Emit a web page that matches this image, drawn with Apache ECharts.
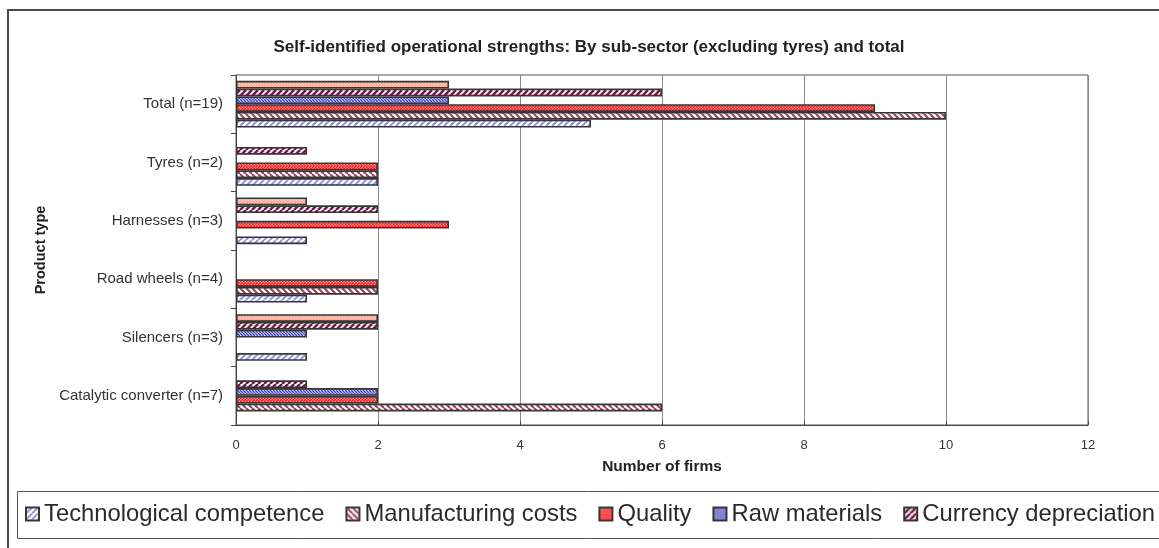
<!DOCTYPE html>
<html>
<head>
<meta charset="utf-8">
<style>
  html, body { margin: 0; padding: 0; background: #fff; }
  #chart { width: 1159px; height: 548px; }
</style>
<script src="https://cdn.jsdelivr.net/npm/echarts@6/dist/echarts.min.js"></script>
</head>
<body>
<div id="chart"></div>
<script>
// Categories, listed from the bottom of the axis to the top
const categories = [
  'Catalytic converter (n=7)',
  'Silencers (n=3)',
  'Road wheels (n=4)',
  'Harnesses (n=3)',
  'Tyres (n=2)',
  'Total (n=19)'
];

// Number of firms per strength, same category order
const technologicalCompetence = [0, 1, 1, 1, 2, 5];
const manufacturingCosts      = [6, 0, 2, 0, 2, 10];
const quality                 = [2, 0, 2, 3, 2, 9];
const rawMaterials            = [2, 1, 0, 0, 0, 3];
const currencyDepreciation    = [1, 2, 0, 2, 1, 6];
const otherStrengths          = [0, 2, 0, 1, 0, 3];

const seriesNames = [
  'Technological competence',
  'Manufacturing costs',
  'Quality',
  'Raw materials',
  'Currency depreciation',
  'Other'
];
const xTicks = [0, 2, 4, 6, 8, 10, 12];

// Diagonal hatch tile: dir '/' or '\\'
function hatch(fg, bg, period, lw, dir) {
  const c = document.createElement('canvas');
  c.width = c.height = period;
  const g = c.getContext('2d');
  g.fillStyle = bg;
  g.fillRect(0, 0, period, period);
  g.strokeStyle = fg;
  g.lineWidth = lw;
  g.beginPath();
  for (let k = -1; k <= 1; k++) {
    const o = k * period;
    if (dir === '/') { g.moveTo(o, period); g.lineTo(o + period, 0); }
    else { g.moveTo(o, 0); g.lineTo(o + period, period); }
  }
  g.stroke();
  return { image: c, repeat: 'repeat' };
}

const fills = [
  hatch('#9696d8', '#ffffff', 6, 2.0, '/'),
  hatch('#a3405c', '#ffffff', 6, 2.2, '\\'),
  hatch('#ff2626', '#ffd8d8', 3, 1.9, '/'),
  hatch('#4646bc', '#ececff', 3, 1.5, '\\'),
  hatch('#741a4a', '#ffffff', 6, 2.6, '/'),
  hatch('#ffa28a', '#fff2ee', 3, 1.8, '/')
];

const values = [
  technologicalCompetence,
  manufacturingCosts,
  quality,
  rawMaterials,
  currencyDepreciation,
  otherStrengths
];

const FONT = '"Liberation Sans", Arial, sans-serif';

// Horizontal bars stack their series from the top of each band,
// so the series are given in reverse to keep the first one lowest.
const order = [5, 4, 3, 2, 1, 0];

const chart = echarts.init(document.getElementById('chart'), null, { renderer: 'canvas' });

chart.setOption({
  backgroundColor: '#ffffff',
  animation: false,
  textStyle: { fontFamily: FONT },
  title: {
    text: 'Self-identified operational strengths: By sub-sector (excluding tyres) and total',
    left: 584,
    textAlign: 'center',
    top: 34,
    textStyle: { fontFamily: FONT, fontSize: 17, fontWeight: 'bold', color: '#222' }
  },
  graphic: [
    {
      type: 'rect',
      shape: { x: 8, y: 10, width: 1200, height: 600 },
      style: { fill: 'none', stroke: '#4a4a4a', lineWidth: 2 },
      silent: true
    },
    {
      type: 'rect',
      shape: { x: 17.5, y: 491.5, width: 1200, height: 47 },
      style: { fill: 'none', stroke: '#555', lineWidth: 1 },
      silent: true
    }
  ],
  legend: {
    data: seriesNames.slice(0, 5),
    left: 25,
    top: 502,
    padding: 0,
    itemGap: 21,
    itemWidth: 13,
    itemHeight: 13,
    icon: 'rect',
    textStyle: { fontFamily: FONT, fontSize: 23.8, color: '#2a2a2a' }
  },
  grid: {
    left: 236,
    right: 71,
    top: 75,
    bottom: 123,
    show: true,
    borderColor: '#555',
    borderWidth: 1
  },
  xAxis: {
    type: 'value',
    min: xTicks[0],
    max: xTicks[xTicks.length - 1],
    interval: 2,
    name: 'Number of firms',
    nameLocation: 'middle',
    nameGap: 34,
    nameTextStyle: { fontFamily: FONT, fontSize: 15.5, fontWeight: 'bold', color: '#222' },
    axisLine: { show: true, lineStyle: { color: '#444', width: 1 } },
    axisTick: { show: true, inside: true, length: 4, lineStyle: { color: '#444' } },
    axisLabel: { fontFamily: FONT, fontSize: 13, color: '#333', margin: 14 },
    splitLine: { show: true, lineStyle: { color: '#8a8a8a', width: 1 } }
  },
  yAxis: {
    type: 'category',
    data: categories,
    name: 'Product type',
    nameLocation: 'middle',
    nameGap: 186,
    nameRotate: 90,
    nameTextStyle: { fontFamily: FONT, fontSize: 14.5, fontWeight: 'bold', color: '#222' },
    axisLine: { show: true, lineStyle: { color: '#444', width: 1 } },
    axisTick: { show: true, length: 5, lineStyle: { color: '#444' } },
    axisLabel: { fontFamily: FONT, fontSize: 15, color: '#333', margin: 13 }
  },
  series: order.map(i => ({
    name: seriesNames[i],
    type: 'bar',
    // a zero count leaves its slot empty
    data: values[i].map(v => (v === 0 ? null : v)),
    barGap: '0%',
    barCategoryGap: '20%',
    itemStyle: {
      color: fills[i],
      borderColor: '#363636',
      borderWidth: 1.6
    }
  }))
});
</script>
</body>
</html>
